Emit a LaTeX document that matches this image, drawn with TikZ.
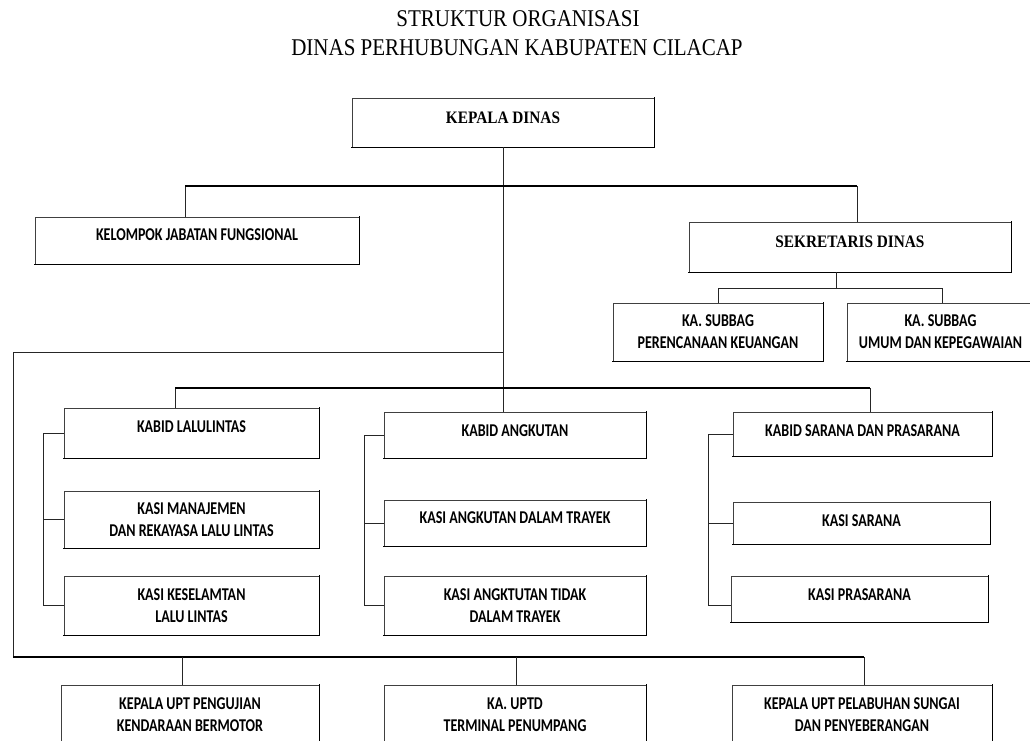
\documentclass[tikz,border=0pt]{standalone}
\usepackage{fontspec}
\setmainfont{Liberation Serif}[FakeStretch=0.875]
\newfontfamily\calib{Carlito}[FakeStretch=0.78]
\newcommand\up[2]{\raisebox{#1pt}{#2}}
\begin{document}
\begin{tikzpicture}[x=1pt,y=-1pt,
  box/.style={draw=black!75, fill=white, line width=0.9pt, inner sep=0pt, align=center,
    font=\calib\bfseries\fontsize{18}{22}\selectfont},
  sbox/.style={box, font=\bfseries\fontsize{17.5}{22}\selectfont},
  edge/.style={line width=1.7pt, black, line cap=rect},
  conn/.style={line width=0.9pt, black!85},
  main/.style={line width=1.7pt, black},
  ttl/.style={font=\fontsize{24}{28}\selectfont}
]
\fill[white] (0,0) rectangle (1030,740);
\useasboundingbox (0,0) rectangle (1030,740);
\clip (0,0) rectangle (1030,740);

% title
\node[ttl] (t1) at (518,19) {STRUKTUR ORGANISASI};
\node[ttl] (t2) at (517,48) {DINAS PERHUBUNGAN KABUPATEN CILACAP};

% boxes
\node[sbox, minimum width=302pt, minimum height=49pt] (kd) at (503,122.5) {\up{9}{KEPALA DINAS}};
\node[box, minimum width=324pt, minimum height=47pt] (kjf) at (197,240.5) {\up{11}{KELOMPOK JABATAN FUNGSIONAL}};
\node[sbox, minimum width=322pt, minimum height=50pt] (sek) at (850,247) {\up{10}{SEKRETARIS DINAS}};
\node[box, minimum width=210pt, minimum height=58pt] (sub1) at (718,332) {KA. SUBBAG\\PERENCANAAN KEUANGAN};
\node[box, minimum width=187pt, minimum height=58pt] (sub2) at (940.5,332) {KA. SUBBAG\\UMUM DAN KEPEGAWAIAN};

\node[box, minimum width=255pt, minimum height=50pt] (lal) at (191.5,433) {\up{12}{KABID LALULINTAS}};
\node[box, minimum width=255pt, minimum height=57pt] (man) at (191.5,519.5) {KASI MANAJEMEN\\DAN REKAYASA LALU LINTAS};
\node[box, minimum width=255pt, minimum height=59pt] (kes) at (191.5,605.5) {KASI KESELAMTAN\\LALU LINTAS};

\node[box, minimum width=262pt, minimum height=46pt] (ang) at (515,435) {\up{8}{KABID ANGKUTAN}};
\node[box, minimum width=262pt, minimum height=46pt] (kat) at (515,523) {\up{10}{KASI ANGKUTAN DALAM TRAYEK}};
\node[box, minimum width=262pt, minimum height=59pt] (ktt) at (515,605.5) {KASI ANGKTUTAN TIDAK\\DALAM TRAYEK};

\node[box, minimum width=259pt, minimum height=44pt] (sar) at (862.5,434) {\up{6}{KABID SARANA DAN PRASARANA}};
\node[box, minimum width=257pt, minimum height=42pt] (ks) at (861.5,523) {\up{4}{KASI SARANA}};
\node[box, minimum width=257pt, minimum height=46pt] (kp) at (859.5,599) {\up{8}{KASI PRASARANA}};

\node[box, minimum width=258pt, minimum height=60pt] (upt1) at (190,715) {KEPALA UPT PENGUJIAN\\KENDARAAN BERMOTOR};
\node[box, minimum width=262pt, minimum height=60pt] (uptd) at (515,715) {KA. UPTD\\TERMINAL PENUMPANG};
\node[box, minimum width=260pt, minimum height=60pt] (upt3) at (862,715) {KEPALA UPT PELABUHAN SUNGAI\\DAN PENYEBERANGAN};

% heavier lower and right edges of the boxes
\foreach \n in {kd,kjf,sek,sub1,sub2,lal,man,kes,ang,kat,ktt,sar,ks,kp,upt1,uptd,upt3}
  \draw[edge] (\n.south west) -- (\n.south east) -- (\n.north east);

% junction coordinates
\coordinate (h1l) at (185,186);
\coordinate (h1r) at (857,186);
\coordinate (s1) at (836,288);
\coordinate (s1l) at (718,288);
\coordinate (s1r) at (942,288);
\coordinate (b0) at (503,352);
\coordinate (bl) at (13,352);
\coordinate (bb) at (13,657);
\coordinate (br) at (864,657);
\coordinate (d1) at (182,657);
\coordinate (d2) at (516,657);
\coordinate (h2l) at (175,388);
\coordinate (h2r) at (870,388);
\coordinate (c1) at (43,0);
\coordinate (c2) at (364,0);
\coordinate (c3) at (708,0);

% connectors
\draw[conn] (kd.south) -- (kd.south |- ang.north);
\draw[conn] (kjf.north -| h1l) -- (h1l);
\draw[main] (h1l) -- (h1r);
\draw[conn] (h1r) -- (h1r |- sek.north);

\draw[conn] (sek.south -| s1) -- (s1);
\draw[conn] (s1l |- sub1.north) -- (s1l) -- (s1r) -- (s1r |- sub2.north);

\draw[conn] (b0) -- (bl) -- (bb);
\draw[main] (bb) -- (br);
\draw[conn] (br) -- (br |- upt3.north);
\draw[conn] (d1) -- (d1 |- upt1.north);
\draw[conn] (d2) -- (d2 |- uptd.north);

\draw[conn] (h2l |- lal.north) -- (h2l);
\draw[main] (h2l) -- (h2r);
\draw[conn] (h2r) -- (h2r |- sar.north);

\draw[conn] (lal.west) -- (lal.west -| c1) -- (kes.west -| c1) -- (kes.west);
\draw[conn] (man.west -| c1) -- (man.west);
\draw[conn] (ang.west) -- (ang.west -| c2) -- (ktt.west -| c2) -- (ktt.west);
\draw[conn] (kat.west -| c2) -- (kat.west);
\draw[conn] (sar.west) -- (sar.west -| c3) -- (kes.west -| c3) -- (kp.west |- kes.west);
\draw[conn] (ks.west -| c3) -- (ks.west);
\end{tikzpicture}
\end{document}
